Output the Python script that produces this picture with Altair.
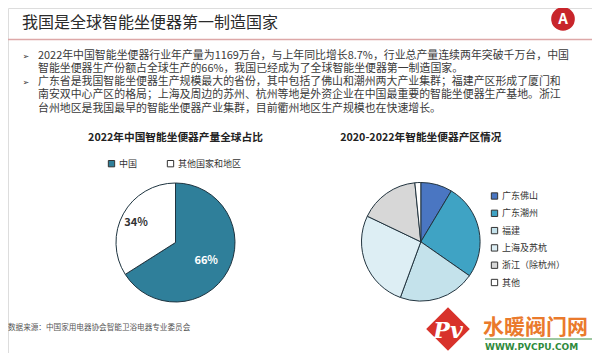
import altair as alt
import pandas as pd

FONT = "Noto Sans CJK SC"

PAGE_TITLE = "我国是全球智能坐便器第一制造国家"
BULLET_1 = [
    "2022年中国智能坐便器行业年产量为1169万台，与上年同比增长8.7%，行业总产量连续两年突破千万台，中国",
    "智能坐便器生产份额占全球生产的66%，我国已经成为了全球智能坐便器第一制造国家。",
]
BULLET_2 = [
    "广东省是我国智能坐便器生产规模最大的省份，其中包括了佛山和潮州两大产业集群；福建产区形成了厦门和",
    "南安双中心产区的格局；上海及周边的苏州、杭州等地是外资企业在中国最重要的智能坐便器生产基地。浙江",
    "台州地区是我国最早的智能坐便器产业集群，目前衢州地区生产规模也在快速增长。",
]
SOURCE = "数据来源：中国家用电器协会智能卫浴电器专业委员会"

LEFT_TITLE = "2022年中国智能坐便器产量全球占比"
LEFT_CATS = ["中国", "其他国家和地区"]
LEFT_VALUES = [66, 34]
LEFT_LABELS = ["66%", "34%"]
LEFT_COLORS = ["#2f7f9a", "#ffffff"]

RIGHT_TITLE = "2020-2022年智能坐便器产区情况"
RIGHT_CATS = ["广东佛山", "广东潮州", "福建", "上海及苏杭", "浙江（除杭州）", "其他"]
RIGHT_VALUES = [8.6, 26.1, 20.9, 26.5, 16.3, 1.6]
RIGHT_COLORS = ["#4a76c2", "#3fa3c4", "#c4e2eb", "#ddeef4", "#d7d7d7", "#ffffff"]

WM_NAME = "水暖阀门网"
WM_URL = "WWW.PVCPU.COM"
WM_MARK = "Pv"

one = pd.DataFrame({"k": [0]})
LH = 13.2


def text(t, x, y, size, color, weight="normal", align="left", baseline="alphabetic",
         font=FONT, **kw):
    df = pd.DataFrame({"t": [t]})
    return alt.Chart(df).mark_text(
        align=align, baseline=baseline, fontSize=size, color=color,
        fontWeight=weight, font=font, **kw
    ).encode(x=alt.value(x), y=alt.value(y), text="t:N")


# page header
title = text(PAGE_TITLE, 14, 20, 16, "#2b2b2b")
rule = alt.Chart(one).mark_rule(color="#dda8a8", strokeWidth=1.5).encode(
    x=alt.value(0), x2=alt.value(584), y=alt.value(31.5))
logo = alt.Chart(one).mark_point(shape="circle", filled=True, color="#c8252b",
                                 size=560, opacity=1).encode(x=alt.value(555), y=alt.value(11))
logo_a = text("A", 555, 16, 15, "white", weight="bold", align="center")

P1Y = 50.8
P2Y = P1Y + 2 * LH
arrow1 = text("➢", 14.5, P1Y - 0.3, 8, "#333333", font="DejaVu Sans")
arrow2 = text("➢", 14.5, P2Y - 0.3, 8, "#333333", font="DejaVu Sans")
para1 = text("\n".join(BULLET_1), 30, P1Y, 10.9, "#3a3a3a", lineBreak="\n", lineHeight=LH)
para2 = text("\n".join(BULLET_2), 30, P2Y, 10.9, "#3a3a3a", lineBreak="\n", lineHeight=LH)

ltitle = text(LEFT_TITLE, 167.5, 132.5, 10.7, "#222222", weight="bold", align="center")
rtitle = text(RIGHT_TITLE, 412.8, 133, 10.7, "#222222", weight="bold", align="center")
source = text(SOURCE, 0, 321.5, 7.6, "#555555")

# left pie
ldf = pd.DataFrame({"cat": LEFT_CATS, "val": LEFT_VALUES, "label": LEFT_LABELS,
                    "ord": list(range(len(LEFT_CATS)))})
LCX, LCY = 167.5, 234.5
lpie = alt.Chart(ldf).mark_arc(radius=59.5, stroke="#1e3440", strokeWidth=1).encode(
    theta=alt.Theta("val:Q", stack=True),
    color=alt.Color("cat:N", scale=alt.Scale(domain=LEFT_CATS, range=LEFT_COLORS),
                    legend=alt.Legend(title=None, orient="none", direction="horizontal",
                                      legendX=99, legendY=151, symbolType="square",
                                      symbolSize=40, symbolStrokeColor="#333333",
                                      symbolStrokeWidth=1, labelFont=FONT, labelFontSize=9,
                                      labelColor="#333333", columnPadding=27, labelOffset=3,
                                      padding=0)),
    order=alt.Order("ord:Q"),
    x=alt.value(LCX), y=alt.value(LCY),
)
llab_in = alt.Chart(ldf).mark_text(radius=35, fontSize=11, fontWeight="bold", color="white",
                                   font=FONT).encode(
    theta=alt.Theta("val:Q", stack=True), detail="cat:N", order=alt.Order("ord:Q"),
    text=alt.condition("datum.cat == '中国'", alt.Text("label:N"), alt.value("")),
    x=alt.value(LCX), y=alt.value(LCY + 1.5))
llab_out = alt.Chart(ldf).mark_text(radius=45, fontSize=11, fontWeight="bold", color="#333333",
                                    font=FONT).encode(
    theta=alt.Theta("val:Q", stack=True), detail="cat:N", order=alt.Order("ord:Q"),
    text=alt.condition("datum.cat != '中国'", alt.Text("label:N"), alt.value("")),
    x=alt.value(LCX), y=alt.value(LCY + 2))

# right pie
rdf = pd.DataFrame({"cat": RIGHT_CATS, "val": RIGHT_VALUES,
                    "ord": list(range(len(RIGHT_CATS)))})
rpie = alt.Chart(rdf).mark_arc(radius=59.3, stroke="#22343f", strokeWidth=1).encode(
    theta=alt.Theta("val:Q", stack=True),
    color=alt.Color("cat:N", scale=alt.Scale(domain=RIGHT_CATS, range=RIGHT_COLORS),
                    legend=alt.Legend(title=None, orient="none", direction="vertical",
                                      legendX=482, legendY=183.5, symbolType="square",
                                      symbolSize=40, symbolStrokeColor="#333333",
                                      symbolStrokeWidth=1, labelFont=FONT, labelFontSize=9,
                                      labelColor="#333333", rowPadding=6.3, labelOffset=3,
                                      padding=0)),
    order=alt.Order("ord:Q"),
    x=alt.value(412.8), y=alt.value(233.8),
)

# watermark
wm_diamond = alt.Chart(one).mark_point(shape="diamond", filled=True, color="#d8322b",
                                       size=1900, opacity=1).encode(
    x=alt.value(440), y=alt.value(321))
wm_p = text(WM_MARK, 440, 330, 22, "white", weight="bold", align="center", fontStyle="italic",
            font="DejaVu Serif")
wm_name = text(WM_NAME, 475, 326, 21, "#ea7a2c", weight="bold")
wm_line = alt.Chart(one).mark_rule(color="#3b8f43", strokeWidth=1.2).encode(
    x=alt.value(477), x2=alt.value(584), y=alt.value(331))
wm_url = text(WM_URL, 477, 342, 9, "#2f8a3c", weight="bold", font="DejaVu Sans")

chart = alt.layer(
    rule, title, logo, logo_a, arrow1, arrow2, para1, para2,
    ltitle, rtitle, source,
    lpie, llab_in, llab_out, rpie,
    wm_diamond, wm_p, wm_name, wm_line, wm_url,
).resolve_scale(theta="independent", color="independent").properties(
    width=584, height=345, padding=0, autosize=alt.AutoSizeParams(type="none")
).configure_view(stroke=None).configure(background="white")

chart.save("out.html", embed_options={"renderer": "svg", "actions": False})
